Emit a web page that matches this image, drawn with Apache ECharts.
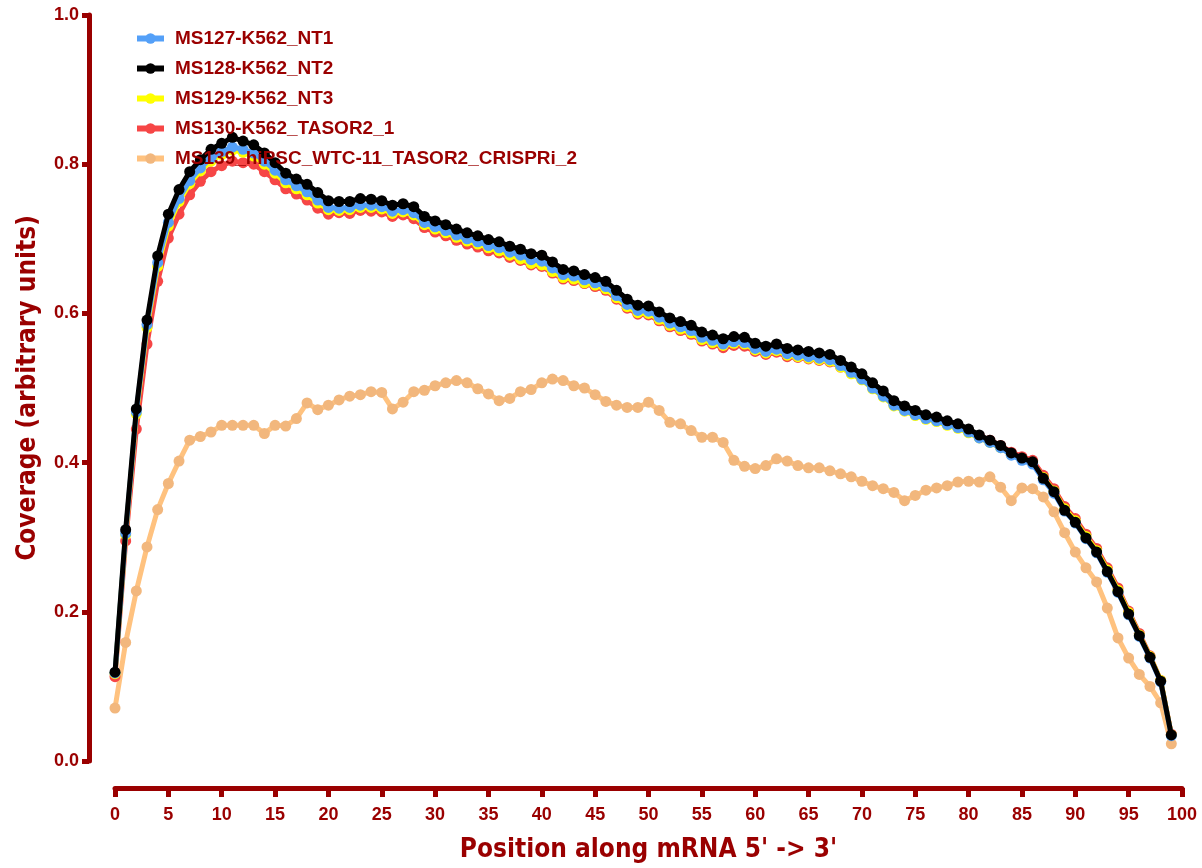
<!DOCTYPE html>
<html>
<head>
<meta charset="utf-8">
<script src="https://cdn.jsdelivr.net/npm/echarts/dist/echarts.min.js"></script>
<style>
  html, body { margin: 0; padding: 0; background: #fff; }
  #main { width: 1202px; height: 868px; }
</style>
</head>
<body>
<div id="main"></div>
<script>
// coverage per position bin (0..99)
const seriesNames = [
  'MS127-K562_NT1',
  'MS128-K562_NT2',
  'MS129-K562_NT3',
  'MS130-K562_TASOR2_1',
  'MS139_hiPSC_WTC-11_TASOR2_CRISPRi_2'
];

const nt1 = [0.118,0.305,0.468,0.585,0.668,0.722,0.754,0.778,0.795,0.808,0.817,0.823,0.820,0.815,0.804,0.792,0.779,0.771,0.763,0.752,
  0.742,0.741,0.742,0.745,0.745,0.743,0.737,0.739,0.735,0.722,0.716,0.711,0.705,0.700,0.696,0.691,0.688,0.682,0.678,0.672,
  0.670,0.661,0.652,0.650,0.645,0.641,0.636,0.624,0.612,0.604,0.603,0.595,0.587,0.582,0.577,0.568,0.564,0.559,0.562,0.561,
  0.553,0.549,0.552,0.546,0.544,0.542,0.540,0.538,0.530,0.521,0.512,0.500,0.489,0.477,0.470,0.464,0.459,0.456,0.451,0.447,
  0.441,0.433,0.427,0.420,0.410,0.403,0.398,0.377,0.359,0.335,0.319,0.298,0.279,0.253,0.226,0.196,0.167,0.138,0.106,0.034];

const nt2 = [0.119,0.310,0.472,0.591,0.677,0.733,0.766,0.790,0.806,0.820,0.828,0.836,0.831,0.826,0.815,0.802,0.788,0.780,0.773,0.762,
  0.751,0.750,0.750,0.754,0.753,0.751,0.745,0.747,0.743,0.730,0.724,0.719,0.713,0.708,0.704,0.699,0.696,0.690,0.686,0.680,
  0.678,0.669,0.659,0.657,0.652,0.648,0.643,0.631,0.619,0.611,0.610,0.602,0.594,0.589,0.584,0.575,0.571,0.566,0.569,0.568,
  0.560,0.556,0.559,0.553,0.551,0.549,0.547,0.545,0.537,0.528,0.519,0.507,0.496,0.483,0.476,0.470,0.464,0.461,0.456,0.452,
  0.445,0.437,0.430,0.423,0.413,0.406,0.401,0.379,0.361,0.336,0.320,0.299,0.280,0.254,0.227,0.197,0.168,0.139,0.107,0.035];

const nt3 = [0.117,0.303,0.465,0.581,0.663,0.717,0.750,0.774,0.791,0.804,0.813,0.819,0.816,0.811,0.800,0.788,0.775,0.767,0.759,0.748,
  0.739,0.738,0.739,0.742,0.742,0.740,0.734,0.736,0.732,0.719,0.713,0.708,0.702,0.697,0.693,0.688,0.684,0.678,0.673,0.667,
  0.665,0.656,0.648,0.646,0.641,0.638,0.633,0.621,0.609,0.601,0.600,0.592,0.584,0.579,0.574,0.565,0.561,0.557,0.560,0.559,
  0.551,0.547,0.550,0.544,0.542,0.540,0.538,0.536,0.528,0.519,0.511,0.499,0.488,0.476,0.469,0.463,0.458,0.455,0.450,0.446,
  0.440,0.433,0.427,0.420,0.411,0.405,0.400,0.380,0.362,0.338,0.322,0.301,0.282,0.256,0.229,0.199,0.169,0.140,0.108,0.035];

const tasor2 = [0.113,0.295,0.445,0.559,0.643,0.701,0.733,0.759,0.777,0.790,0.798,0.804,0.802,0.800,0.790,0.779,0.767,0.760,0.752,0.741,
  0.733,0.735,0.734,0.738,0.737,0.736,0.730,0.732,0.727,0.715,0.709,0.704,0.698,0.693,0.689,0.684,0.681,0.675,0.671,0.665,
  0.663,0.654,0.646,0.644,0.640,0.636,0.631,0.619,0.607,0.599,0.598,0.590,0.582,0.577,0.572,0.563,0.559,0.554,0.557,0.556,
  0.549,0.545,0.548,0.542,0.541,0.539,0.537,0.535,0.528,0.520,0.512,0.501,0.491,0.479,0.472,0.466,0.461,0.458,0.453,0.449,
  0.443,0.436,0.430,0.423,0.414,0.408,0.403,0.383,0.365,0.341,0.325,0.304,0.285,0.259,0.232,0.201,0.171,0.141,0.108,0.036];

const hipsc = [0.071,0.159,0.228,0.287,0.337,0.372,0.402,0.430,0.435,0.441,0.450,0.450,0.450,0.450,0.439,0.450,0.449,0.459,0.480,0.471,
  0.477,0.484,0.489,0.491,0.495,0.494,0.472,0.481,0.495,0.497,0.503,0.507,0.510,0.507,0.499,0.492,0.483,0.486,0.495,0.498,
  0.507,0.512,0.510,0.503,0.500,0.491,0.482,0.477,0.474,0.474,0.481,0.470,0.454,0.452,0.443,0.434,0.434,0.427,0.403,0.395,
  0.392,0.396,0.405,0.402,0.396,0.393,0.393,0.389,0.385,0.381,0.375,0.369,0.365,0.360,0.349,0.356,0.363,0.366,0.369,0.374,
  0.375,0.374,0.381,0.367,0.349,0.366,0.365,0.354,0.334,0.306,0.280,0.259,0.240,0.205,0.165,0.138,0.116,0.100,0.078,0.023];

const xTicks = [0, 100, 5];   // min, max, interval
const yTicks = [0, 1, 0.2];

const dark = '#9a0000';
const bold = "'Liberation Sans', Arial, sans-serif";
const narrow = "'Liberation Sans Narrow', 'Arial Narrow', 'DejaVu Sans Condensed', sans-serif";

const chart = echarts.init(document.getElementById('main'));

function mk(name, values, color, lineColor, z) {
  return {
    name: name,
    type: 'line',
    data: values.map((v, i) => [i, v]),
    symbol: 'circle',
    symbolSize: 11,
    z: z,
    itemStyle: { color: color },
    lineStyle: { color: lineColor || color, width: 5 },
    emphasis: { disabled: true }
  };
}

chart.setOption({
  animation: false,
  backgroundColor: '#fff',
  grid: { left: 115, right: 20, top: 15, bottom: 105 },
  legend: {
    orient: 'vertical',
    left: 129,
    top: 24,
    z: 10,
    itemWidth: 27,
    itemHeight: 13,
    itemGap: 11,
    lineStyle: { width: 6 },
    textStyle: {
      color: dark,
      fontFamily: bold,
      fontWeight: 'bold',
      fontSize: 19,
      padding: [0, 0, 0, 6]
    },
    data: seriesNames
  },
  xAxis: {
    type: 'value',
    min: xTicks[0],
    max: xTicks[1],
    interval: xTicks[2],
    offset: 27,
    splitLine: { show: false },
    axisLine: { onZero: false, lineStyle: { color: dark, width: 5 } },
    axisTick: { length: 9, lineStyle: { color: dark, width: 5 } },
    axisLabel: { color: dark, fontFamily: bold, fontWeight: 'bold', fontSize: 18, margin: 18 },
    name: "Position along mRNA 5' -> 3'",
    nameLocation: 'middle',
    nameGap: 49,
    nameTextStyle: { color: dark, fontFamily: narrow, fontWeight: 'bold', fontSize: 26 }
  },
  yAxis: {
    type: 'value',
    min: yTicks[0],
    max: yTicks[1],
    interval: yTicks[2],
    offset: 26,
    splitLine: { show: false },
    axisLine: { show: true, onZero: false, lineStyle: { color: dark, width: 5 } },
    axisTick: { show: true, length: 7, lineStyle: { color: dark, width: 5 } },
    axisLabel: {
      color: dark, fontFamily: bold, fontWeight: 'bold', fontSize: 18, margin: 10,
      formatter: v => v.toFixed(1)
    },
    name: 'Coverage (arbitrary units)',
    nameLocation: 'middle',
    nameGap: 48,
    nameTextStyle: { color: dark, fontFamily: narrow, fontWeight: 'bold', fontSize: 26 }
  },
  series: [
    mk(seriesNames[0], nt1, '#54a0f8', null, 4),
    mk(seriesNames[1], nt2, '#000000', null, 5),
    mk(seriesNames[2], nt3, '#ffff00', null, 3),
    mk(seriesNames[3], tasor2, '#f64646', null, 2),
    mk(seriesNames[4], hipsc, '#f2b77d', '#ffc27f', 1)
  ]
});
</script>
</body>
</html>
